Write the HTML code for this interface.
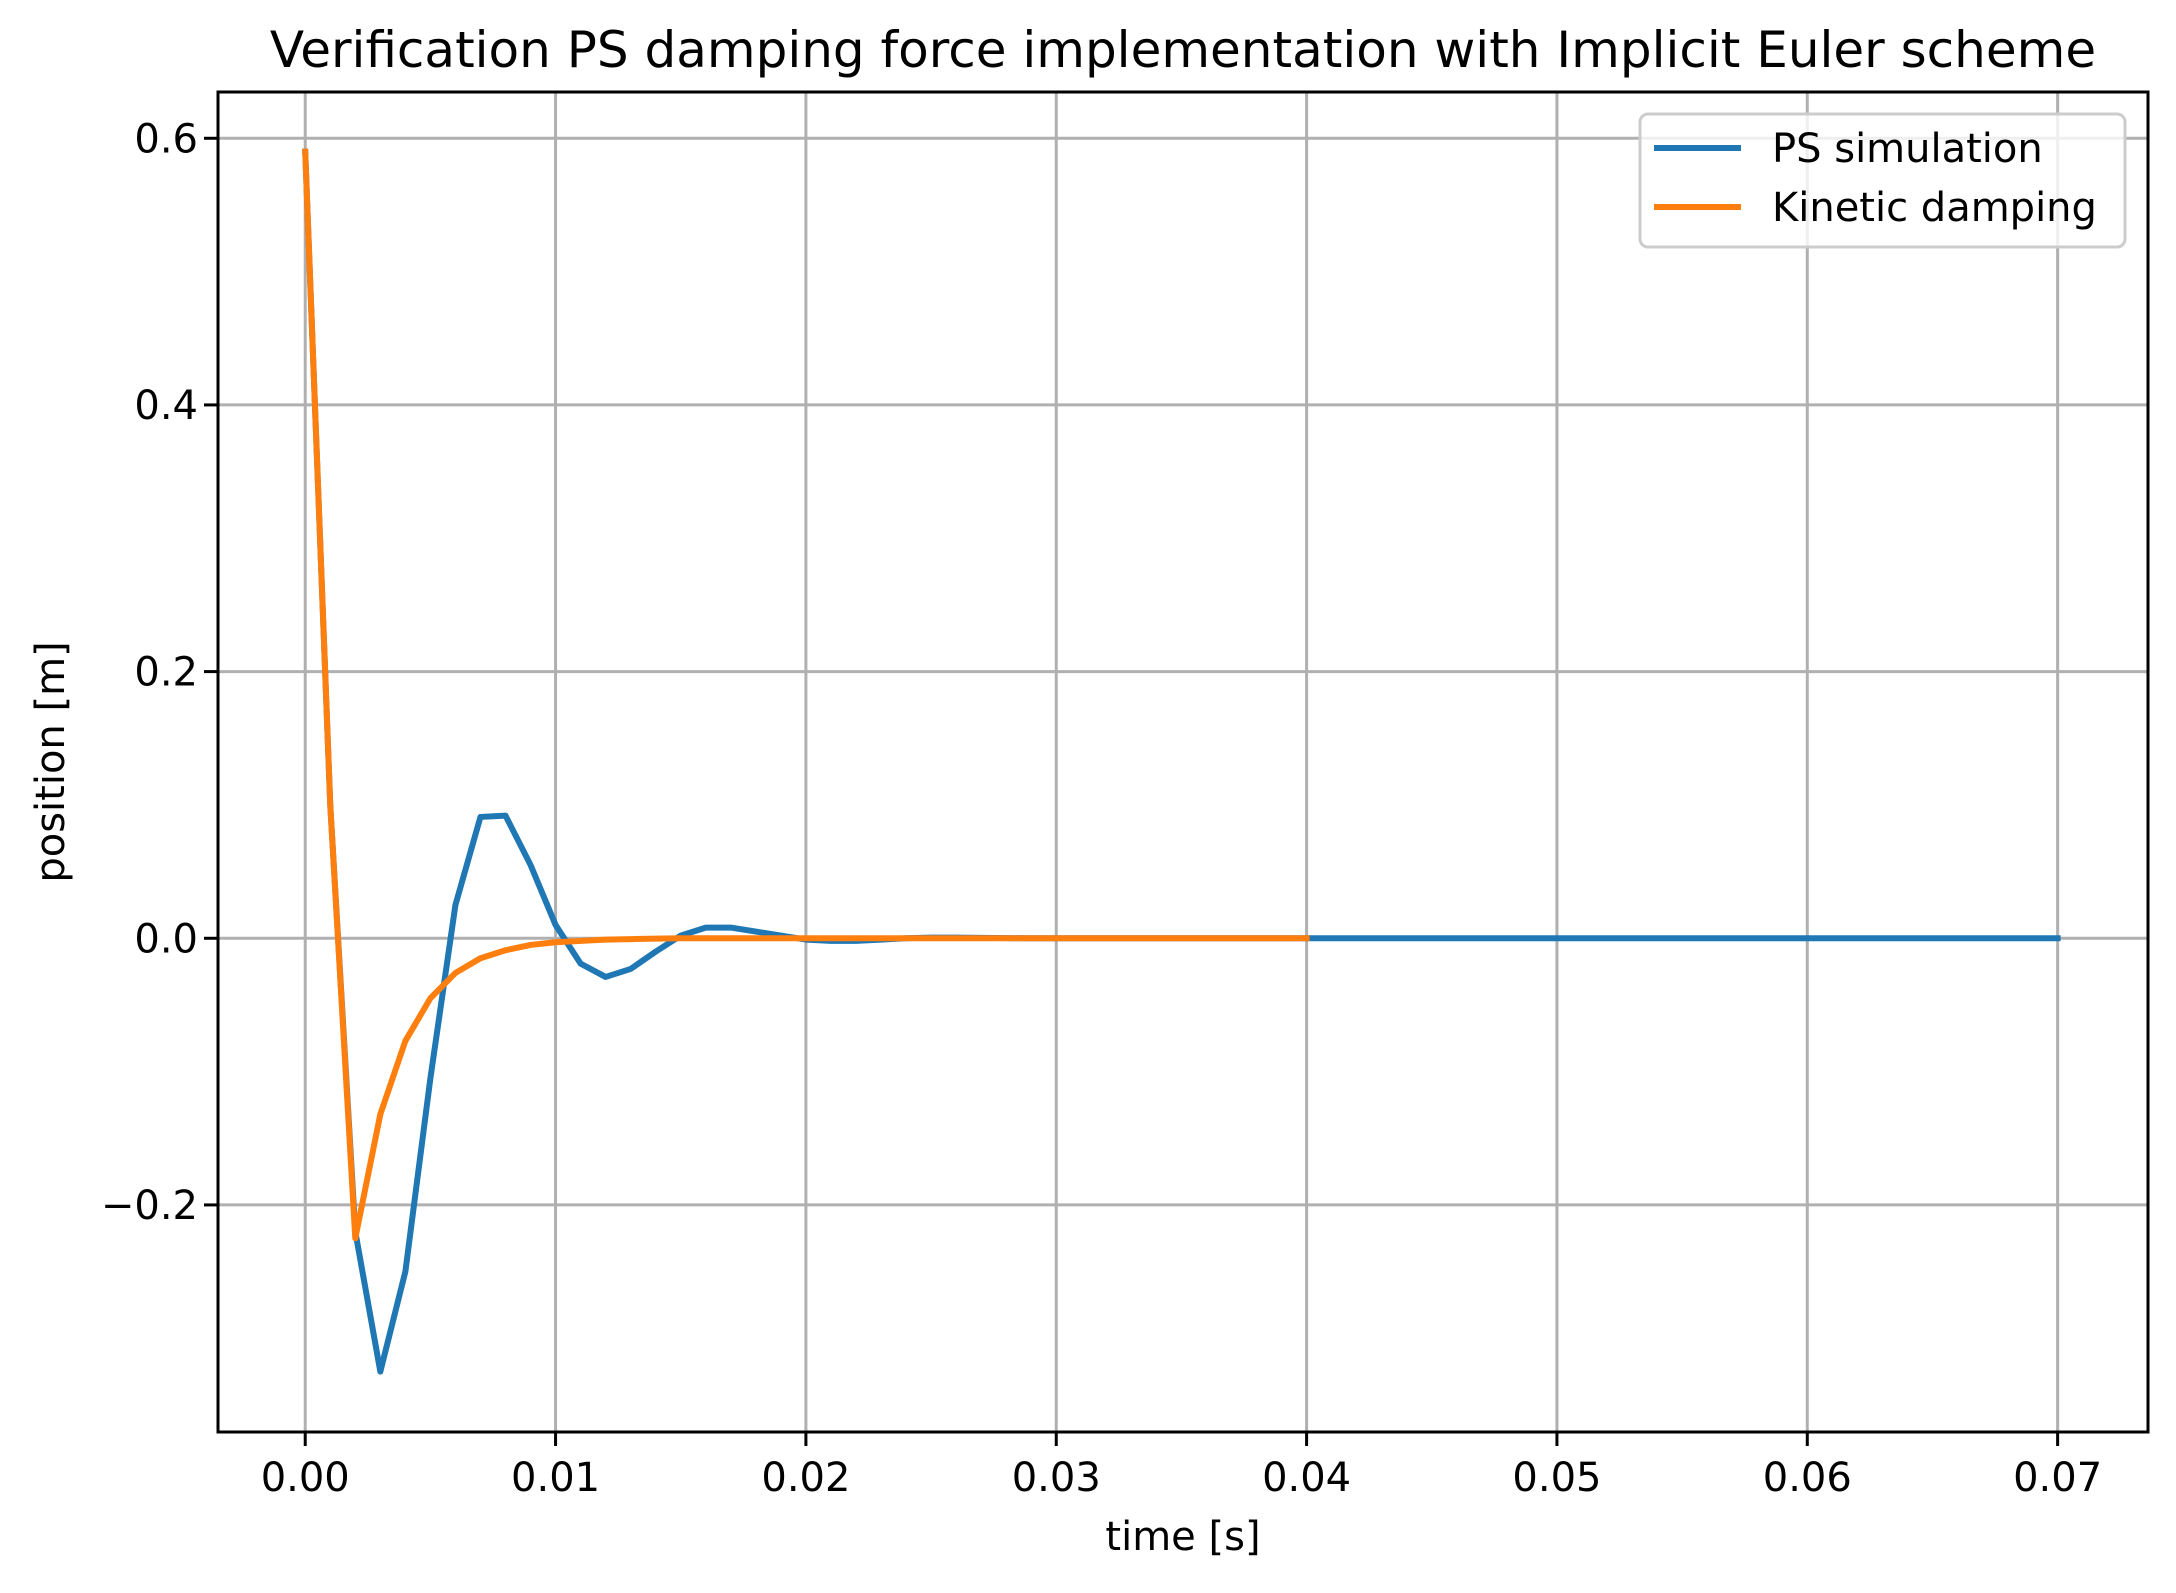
<!DOCTYPE html>
<html><head><meta charset="utf-8"><style>
html,body{margin:0;padding:0;background:#fff}
svg text{font-family:"DejaVu Sans","Liberation Sans",sans-serif;fill:#000}
</style></head><body>
<svg id="chart" width="2176" height="1588" xmlns="http://www.w3.org/2000/svg">
<rect width="2176" height="1588" fill="#fff"/>
<g id="grid"></g>
<g id="series"></g>
<rect x="218" y="92" width="1930" height="1340" fill="none" stroke="#000" stroke-width="3"/>
<g id="ticks"></g>
<text x="1183" y="67" font-size="50" text-anchor="middle">Verification PS damping force implementation with Implicit Euler scheme</text>
<text x="1183" y="1550" font-size="40" text-anchor="middle">time [s]</text>
<text x="0" y="0" font-size="40" text-anchor="middle" transform="translate(64,762) rotate(-90)">position [m]</text>
<g>
<rect x="1640" y="114" width="485" height="133" rx="8" fill="#fff" fill-opacity="0.8" stroke="#ccc" stroke-width="3"/>
<line x1="1654" y1="148" x2="1741" y2="148" stroke="#1f77b4" stroke-width="6"/>
<text x="1772" y="162" font-size="40">PS simulation</text>
<line x1="1654" y1="207" x2="1741" y2="207" stroke="#ff7f0e" stroke-width="6"/>
<text x="1772" y="221" font-size="40">Kinetic damping</text>
</g>
</svg>
<script>
const xTicks=[0,0.01,0.02,0.03,0.04,0.05,0.06,0.07];
const xTickLabels=["0.00","0.01","0.02","0.03","0.04","0.05","0.06","0.07"];
const yTicks=[-0.2,0,0.2,0.4,0.6];
const yTickLabels=["\u22120.2","0.0","0.2","0.4","0.6"];
const psTime=[0,0.001,0.002,0.003,0.004,0.005,0.006,0.007,0.008,0.009,0.010,0.011,0.012,0.013,0.014,0.015,0.016,0.017,0.018,0.019,0.020,0.021,0.022,0.023,0.024,0.025,0.026,0.027,0.028,0.029,0.030,0.040,0.050,0.060,0.070];
const psValues=[0.59,0.10,-0.22,-0.325,-0.25,-0.105,0.025,0.091,0.092,0.055,0.010,-0.019,-0.029,-0.023,-0.010,0.002,0.008,0.008,0.005,0.002,-0.001,-0.002,-0.002,-0.001,0,0.0005,0.0005,0.0003,0.0001,0,0,0,0,0,0];
const kdTime=[0,0.001,0.002,0.003,0.004,0.005,0.006,0.007,0.008,0.009,0.010,0.011,0.012,0.013,0.014,0.015,0.020,0.030,0.040];
const kdValues=[0.59,0.10,-0.225,-0.132,-0.077,-0.045,-0.026,-0.015,-0.009,-0.005,-0.003,-0.002,-0.001,-0.0006,-0.0003,0,0,0,0];
const NS="http://www.w3.org/2000/svg";
const L=218,R=2148,T=92,B=1432,x0=-0.003484,x1=0.07361,y0=-0.3703,y1=0.6347;
const sx=v=>L+(v-x0)/(x1-x0)*(R-L);
const sy=v=>B-(v-y0)/(y1-y0)*(B-T);
function mk(tag,attrs,parent){const e=document.createElementNS(NS,tag);for(const k in attrs)e.setAttribute(k,attrs[k]);parent.appendChild(e);return e;}
const grid=document.getElementById('grid'),ticks=document.getElementById('ticks'),series=document.getElementById('series');
xTicks.forEach((v,i)=>{
 const g=mk('line',{x1:sx(v),x2:sx(v),y1:T,y2:B,stroke:'#b0b0b0','stroke-width':3},grid);
 
 
 const t=mk('line',{x1:sx(v),x2:sx(v),y1:B,y2:B+14,stroke:'#000','stroke-width':3},ticks);
 
 
 const l=mk('text',{x:sx(v),y:B+59,'font-size':40,'text-anchor':'middle'},ticks);
 
 
 l.textContent=xTickLabels[i];
});
yTicks.forEach((v,i)=>{
 const g=mk('line',{x1:L,x2:R,y1:sy(v),y2:sy(v),stroke:'#b0b0b0','stroke-width':3},grid);
 
 
 const t=mk('line',{x1:L-14,x2:L,y1:sy(v),y2:sy(v),stroke:'#000','stroke-width':3},ticks);
 
 
 const l=mk('text',{x:L-20,y:sy(v)+14,'font-size':40,'text-anchor':'end'},ticks);
 
 
 l.textContent=yTickLabels[i];
});
function line(xs,ys,color,name){
 const p=mk('polyline',{points:xs.map((x,i)=>sx(x)+','+sy(ys[i])).join(' '),fill:'none',stroke:color,'stroke-width':6,'stroke-linejoin':'round','stroke-linecap':'square'},series);
 
 
}
line(psTime,psValues,'#1f77b4','ps-simulation-line');
line(kdTime,kdValues,'#ff7f0e','kinetic-damping-line');
</script>
</body></html>
